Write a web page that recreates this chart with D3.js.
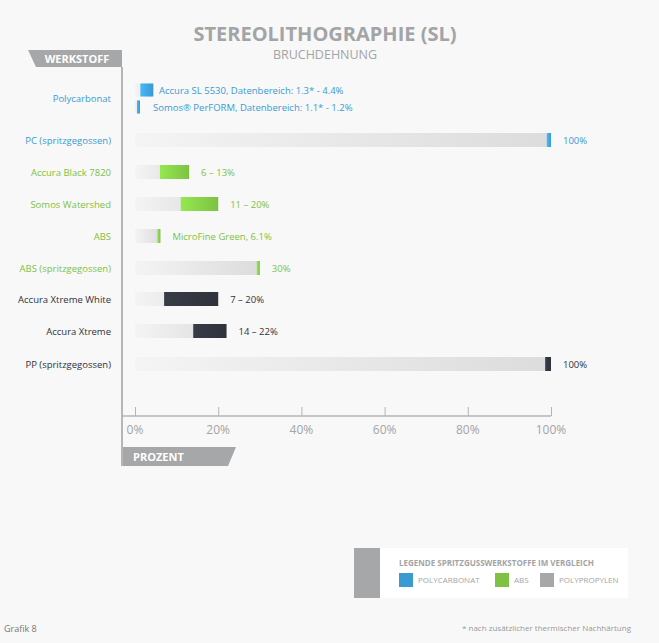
<!DOCTYPE html><html><head><meta charset="utf-8">
<script src="https://cdn.jsdelivr.net/npm/d3@7/dist/d3.min.js"></script>
<style>body{margin:0;background:#f8f8f8}svg{font-family:"Open Sans",sans-serif}</style></head><body>
<svg id="c" width="659" height="643"></svg>
<script>
const categories=["Polycarbonat","Polycarbonat","PC (spritzgegossen)","Accura Black 7820","Somos Watershed","ABS","ABS (spritzgegossen)","Accura Xtreme White","Accura Xtreme","PP (spritzgegossen)"];
const minVals=[1.3,1.1,99,6,11,5.4,29.3,7,14,98.6];
const maxVals=[4.4,1.2,100,13,20,6.1,30,20,22,100];
const labels=["Accura SL 5530, Datenbereich: 1.3* - 4.4%","Somos® PerFORM, Datenbereich: 1.1* - 1.2%","100%","6 – 13%","11 – 20%","MicroFine Green, 6.1%","30%","7 – 20%","14 – 22%","100%"];
const groups=["pc","pc","pc","abs","abs","abs","abs","pp","pp","pp"];
const ticks=[0,20,40,60,80,100];
const col={pc:"#3a9ad2",abs:"#7dc243",pp:"#2f323b"};
const txt={pc:"#3a9ad2",abs:"#7dc243",pp:"#2f323b"};
const svg=d3.select("#c");
const x=d3.scaleLinear().domain([0,100]).range([135,551]);
const yc=[90,107,140,172,204,236,268,299,331,364];
const defs=svg.append("defs");
const gg=defs.append("linearGradient").attr("id","gray");
gg.append("stop").attr("offset","0").attr("stop-color","#f4f4f4");
gg.append("stop").attr("offset","1").attr("stop-color","#dcdcdc");
Object.entries(col).forEach(([k,c])=>{const g=defs.append("linearGradient").attr("id","g"+k);
g.append("stop").attr("offset","0").attr("stop-color",d3.color(c).brighter(0.5));
g.append("stop").attr("offset","1").attr("stop-color",c);});
// title
svg.append("text").attr("x",325).attr("y",41).attr("text-anchor","middle").attr("font-size",20).attr("font-weight","bold").attr("fill","#a3a4a6").text("STEREOLITHOGRAPHIE (SL)");
svg.append("text").attr("x",325).attr("y",59).attr("text-anchor","middle").attr("font-size",12.5).attr("fill","#a3a4a6").text("BRUCHDEHNUNG");
// tabs
svg.append("path").attr("d","M28,50 L122,50 L122,67 L36,67 Z").attr("fill","#a6a7a9");
svg.append("text").attr("x",77).attr("y",63).attr("text-anchor","middle").attr("font-size",11).attr("font-weight","bold").attr("fill","#fff").text("WERKSTOFF");
svg.append("path").attr("d","M121,447 L236,447 L228,466 L121,466 Z").attr("fill","#a6a7a9");
svg.append("text").attr("x",133).attr("y",461).attr("font-size",11).attr("font-weight","bold").attr("fill","#fff").text("PROZENT");
// axes
svg.append("line").attr("x1",122).attr("x2",122).attr("y1",67).attr("y2",466).attr("stroke","#b5b6b8").attr("stroke-width",2);
const ax=svg.append("g").attr("transform","translate(0,416)").call(d3.axisTop(x).tickValues(ticks).tickSize(9).tickFormat(""));
ax.select(".domain").remove();ax.selectAll("line").attr("stroke","#b5b6b8");
svg.append("line").attr("x1",121).attr("x2",551).attr("y1",416).attr("y2",416).attr("stroke","#b5b6b8").attr("stroke-width",1.5);
svg.selectAll(".tl").data(ticks).join("text").attr("x",d=>x(d)).attr("y",434).attr("text-anchor","middle").attr("font-size",12).attr("fill","#a3a4a6").text(d=>d+"%");
// bars
const h=[14,14,14,14,14,14,14,14,14,14];
categories.forEach((c,i)=>{
 const hh=i<2?13:14,y=yc[i]-hh/2;
 svg.append("rect").attr("x",x(0)).attr("y",y).attr("width",x(maxVals[i])-x(0)).attr("height",hh).attr("fill","url(#gray)");
 const x0=Math.min(x(minVals[i]),x(maxVals[i])-3);
 svg.append("rect").attr("x",x0).attr("y",y).attr("width",x(maxVals[i])-x0).attr("height",hh).attr("fill","url(#g"+groups[i]+")");
 const lx=i<2?(i==0?159:153):x(maxVals[i])+12;
 svg.append("text").attr("x",lx).attr("y",yc[i]+4).attr("font-size",9.5).attr("fill",txt[groups[i]]).text(labels[i]);
});
const catRows=[[categories[0],98.5,"pc"]].concat(categories.slice(2).map((c,j)=>[c,yc[j+2],groups[j+2]]));
catRows.forEach(([c,y,g])=>svg.append("text").attr("x",111).attr("y",y+3.5).attr("text-anchor","end").attr("font-size",9.5).attr("fill",txt[g]).text(c));
// legend
svg.append("rect").attr("x",380).attr("y",548).attr("width",248).attr("height",50).attr("fill","#fff");
svg.append("rect").attr("x",354).attr("y",548).attr("width",26).attr("height",50).attr("fill","#a6a7a9");
svg.append("text").attr("x",399).attr("y",566).attr("font-size",8).attr("font-weight","bold").attr("fill","#a3a4a6").text("LEGENDE SPRITZGUSSWERKSTOFFE IM VERGLEICH");
[["POLYCARBONAT","#3a9ad2",399],["ABS","#7dc243",495],["POLYPROPYLEN","#a6a7a9",540]].forEach(([t,c,lx])=>{
 svg.append("rect").attr("x",lx).attr("y",573).attr("width",14).attr("height",14).attr("fill",c);
 svg.append("text").attr("x",lx+19).attr("y",583).attr("font-size",8).attr("fill","#a3a4a6").text(t);});
svg.append("text").attr("x",4).attr("y",632).attr("font-size",9).attr("fill","#777").text("Grafik 8");
svg.append("text").attr("x",631).attr("y",631).attr("text-anchor","end").attr("font-size",8).attr("fill","#999").text("* nach zusätzlicher thermischer Nachhärtung");
</script></body></html>
